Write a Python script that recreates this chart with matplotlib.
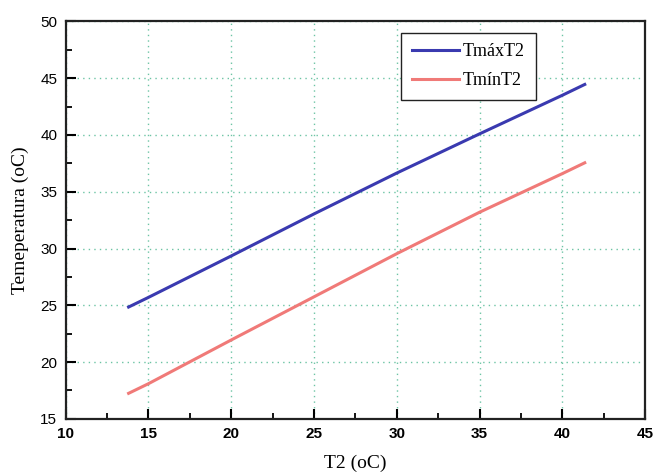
import matplotlib
matplotlib.use("Agg")
import matplotlib.pyplot as plt
from matplotlib.ticker import MultipleLocator

# Temperatures versus T2
t2 = [13.8, 15, 20, 25, 30, 35, 40, 41.35]
tmax = [24.85, 25.7, 29.35, 33.05, 36.65, 40.1, 43.5, 44.45]
tmin = [17.25, 18.1, 21.95, 25.75, 29.55, 33.2, 36.6, 37.55]
series_labels = ["TmáxT2", "TmínT2"]
x_label = "T2 (oC)"
y_label = "Temeperatura (oC)"

fig = plt.figure(figsize=(6.57, 4.76), dpi=100)
ax = fig.add_axes([0.1, 0.12, 0.882, 0.835])

ax.plot(t2, tmax, color="#3a3ab0", lw=2.2, label=series_labels[0])
ax.plot(t2, tmin, color="#f07a78", lw=2.2, label=series_labels[1])

ax.set_xlim(10, 45)
ax.set_ylim(15, 50)
ax.xaxis.set_major_locator(MultipleLocator(5))
ax.xaxis.set_minor_locator(MultipleLocator(2.5))
ax.yaxis.set_major_locator(MultipleLocator(5))
ax.yaxis.set_minor_locator(MultipleLocator(2.5))

ax.grid(True, which="major", color="#6cc4a4", linestyle=(0, (1, 3)), lw=1.0)
ax.set_axisbelow(True)

ax.tick_params(which="major", direction="in", length=7, width=1.5,
               labelsize=11, pad=6)
ax.tick_params(which="minor", direction="in", length=4, width=1.3)
for lab in ax.get_xticklabels() + ax.get_yticklabels():
    lab.set_fontfamily("Liberation Sans")
for lab in ax.get_xticklabels():
    lab.set_fontweight("bold")
for sp in ax.spines.values():
    sp.set_linewidth(1.6)
    sp.set_color("#222222")

ax.set_xlabel(x_label, family="Liberation Serif", fontsize=14, labelpad=10)
ax.set_ylabel(y_label, family="Liberation Serif", fontsize=14, labelpad=8)

leg = ax.legend(loc="upper right", bbox_to_anchor=(0.811, 0.972),
                borderaxespad=0,
                prop={"family": "Liberation Serif", "size": 13},
                fancybox=False, framealpha=1, edgecolor="#222222",
                borderpad=0.6, labelspacing=0.65, handlelength=2.6,
                handletextpad=0.2)
leg.get_frame().set_linewidth(1.0)

fig.savefig("out.png", dpi=100)
